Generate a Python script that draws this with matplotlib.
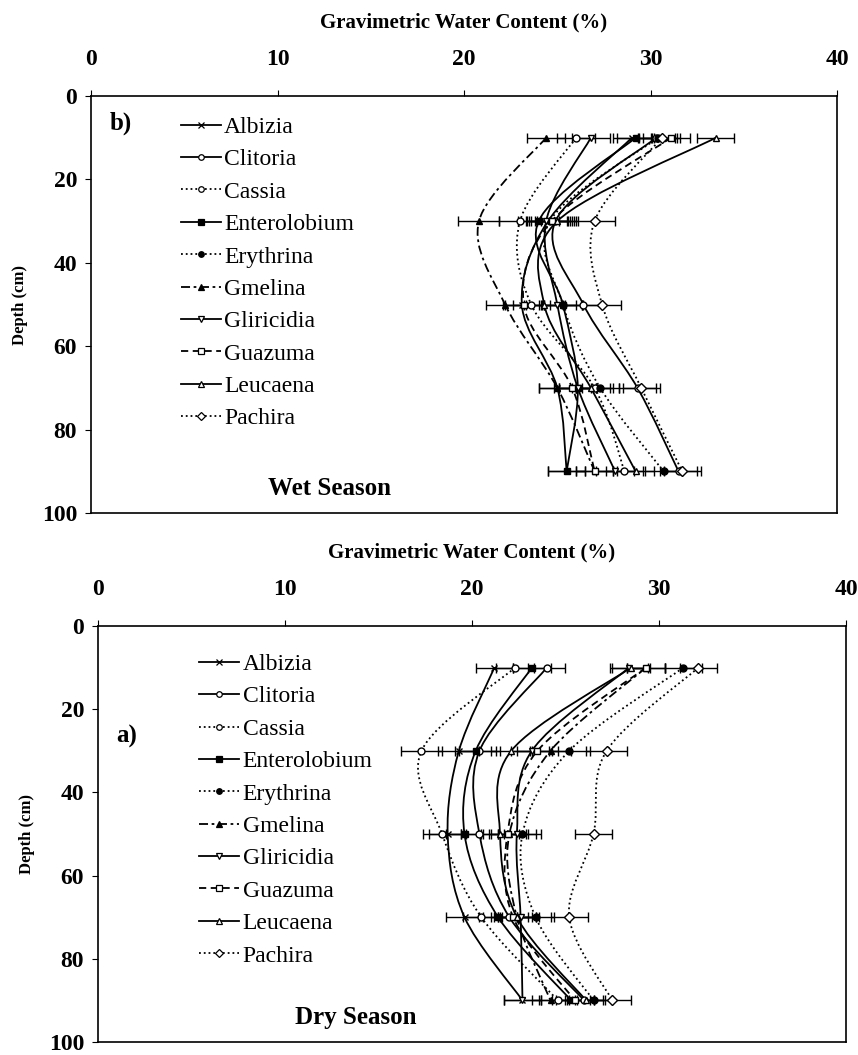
import numpy as np
import matplotlib
matplotlib.use("Agg")
import matplotlib.pyplot as plt
from matplotlib.path import Path
from matplotlib.patches import PathPatch
from matplotlib.lines import Line2D

plt.rcParams['font.family'] = ['Liberation Serif', 'DejaVu Serif']

depth = [10, 30, 50, 70, 90]
species = ['Albizia', 'Clitoria', 'Cassia', 'Enterolobium', 'Erythrina',
           'Gmelina', 'Gliricidia', 'Guazuma', 'Leucaena', 'Pachira']

# wet season (panel b)
wet_albizia = [29.0, 24.5, 23.1, 25.0, 25.5]
wet_clitoria = [30.3, 24.9, 26.4, 29.3, 31.5]
wet_cassia = [26.0, 23.0, 23.6, 27.0, 28.6]
wet_enterolobium = [29.2, 24.0, 25.3, 26.1, 25.5]
wet_erythrina = [30.4, 24.6, 25.3, 27.3, 30.7]
wet_gmelina = [24.4, 20.8, 22.2, 25.0, 27.0]
wet_gliricidia = [26.8, 24.4, 25.0, 26.1, 28.1]
wet_guazuma = [31.1, 24.7, 23.2, 25.8, 27.0]
wet_leucaena = [33.5, 25.0, 24.3, 26.8, 29.2]
wet_pachira = [30.6, 27.0, 27.4, 29.5, 31.7]
wet_err = [1.0, 1.1, 1.0, 1.0, 1.0]

# dry season (panel a)
dry_albizia = [21.2, 19.3, 18.7, 19.6, 22.7]
dry_clitoria = [24.0, 20.4, 20.4, 22.0, 26.0]
dry_cassia = [22.3, 17.3, 18.4, 20.5, 24.6]
dry_enterolobium = [23.2, 20.2, 19.6, 21.4, 25.3]
dry_erythrina = [31.3, 25.2, 22.7, 23.4, 26.5]
dry_gmelina = [29.3, 24.2, 22.0, 22.4, 24.2]
dry_gliricidia = [28.4, 23.2, 22.4, 22.6, 22.7]
dry_guazuma = [29.3, 23.5, 21.9, 22.2, 25.5]
dry_leucaena = [28.5, 22.1, 21.5, 22.4, 26.1]
dry_pachira = [32.1, 27.2, 26.5, 25.2, 27.5]
dry_err = [1.0, 1.1, 1.0, 1.0, 1.0]

wet = [wet_albizia, wet_clitoria, wet_cassia, wet_enterolobium, wet_erythrina,
       wet_gmelina, wet_gliricidia, wet_guazuma, wet_leucaena, wet_pachira]
dry = [dry_albizia, dry_clitoria, dry_cassia, dry_enterolobium, dry_erythrina,
       dry_gmelina, dry_gliricidia, dry_guazuma, dry_leucaena, dry_pachira]

# style per species: linestyle, marker, filled
styles = [('-', 'x', True), ('-', 'o', False), (':', 'o', False), ('-', 's', True),
          (':', 'o', True), ((0, (5, 2, 1.5, 2)), '^', True), ('-', 'v', False),
          ((0, (4, 2.5)), 's', False), ('-', '^', False), (':', 'D', False)]


def smooth_path(xs, ys):
    # excel style smoothed line as cubic bezier
    pts = np.column_stack([xs, ys]).astype(float)
    n = len(pts)
    verts = [pts[0]]
    codes = [Path.MOVETO]
    for i in range(n - 1):
        p0 = pts[max(i - 1, 0)]
        p1 = pts[i]
        p2 = pts[i + 1]
        p3 = pts[min(i + 2, n - 1)]
        c1 = p1 + (p2 - p0) / 6.0
        c2 = p2 - (p3 - p1) / 6.0
        verts += [c1, c2, p2]
        codes += [Path.CURVE4] * 3
    return Path(verts, codes)


def draw_panel(ax, data, err, tag, season, leg_anchor):
    handles = []
    for vals, (ls, mk, filled), name in zip(data, styles, species):
        ax.add_patch(PathPatch(smooth_path(vals, depth), fill=False, ec='black',
                               lw=1.3, ls=ls, zorder=2))
        fc = 'black' if filled else 'white'
        ax.errorbar(vals, depth, xerr=err, fmt='none', ecolor='black',
                    elinewidth=1.0, capsize=3.5, capthick=1.0, zorder=3)
        ax.plot(vals, depth, ls='none', marker=mk, ms=5, mfc=fc, mec='black',
                mew=1.0, zorder=4)
        handles.append(Line2D([], [], color='black', ls=ls, lw=1.3, marker=mk,
                              ms=4, mfc=fc, mec='black', mew=0.9, label=name))

    ax.set_xlim(0, 40)
    ax.set_ylim(100, 0)
    ax.set_xticks([0, 10, 20, 30, 40])
    ax.set_yticks([0, 20, 40, 60, 80, 100])
    ax.xaxis.tick_top()
    ax.xaxis.set_label_position('top')
    ax.tick_params(axis='x', direction='out', length=4, width=0.8, pad=15,
                   labelsize=17)
    ax.tick_params(axis='y', direction='out', length=4, width=0.8, pad=6,
                   labelsize=17)
    for lab in ax.get_xticklabels() + ax.get_yticklabels():
        lab.set_fontweight('bold')
    for sp in ax.spines.values():
        sp.set_linewidth(1.2)
    ax.set_xlabel('Gravimetric Water Content (%)', fontsize=15,
                  fontweight='bold', labelpad=15)
    ax.set_ylabel('Depth (cm)', fontsize=12, fontweight='bold', labelpad=10)

    ax.text(tag[1], tag[2], tag[0], fontsize=18, fontweight='bold',
            transform=ax.transData, va='center')
    ax.text(season[1], season[2], season[0], fontsize=18, fontweight='bold',
            ha='center', va='center', transform=ax.transData)
    ax.legend(handles=handles, loc='upper left', bbox_to_anchor=leg_anchor,
              frameon=False, fontsize=17, handlelength=1.7, handletextpad=0.15,
              labelspacing=0.46, borderaxespad=0, borderpad=0)


fig = plt.figure(figsize=(8.58, 10.55), dpi=100)
ax_wet = fig.add_axes([0.1061, 0.5137, 0.8695, 0.3953])
ax_dry = fig.add_axes([0.1142, 0.0123, 0.8718, 0.3943])

draw_panel(ax_wet, wet, wet_err, ('b)', 1.0, 6.5), ('Wet Season', 12.8, 94),
           (0.12, 0.951))
draw_panel(ax_dry, dry, dry_err, ('a)', 1.0, 26.5), ('Dry Season', 13.8, 94),
           (0.135, 0.934))

fig.savefig('out.png', dpi=100)
